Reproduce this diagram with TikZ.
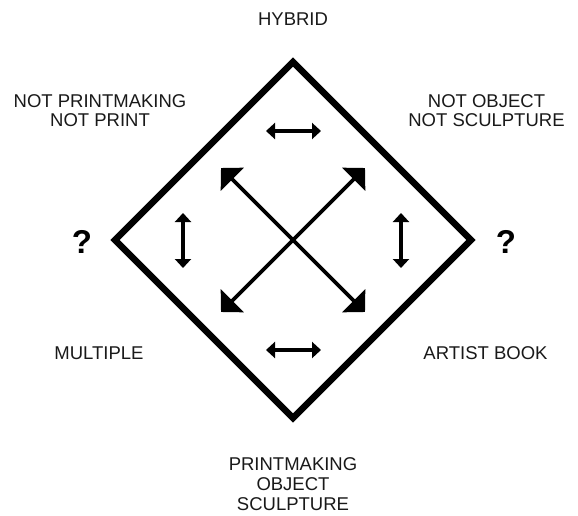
\documentclass[tikz,border=0pt]{standalone}
\usepackage{fontspec}
\setmainfont{Liberation Sans}
\usetikzlibrary{arrows.meta}
\begin{document}
\begin{tikzpicture}[x=1pt,y=-1pt,
  lbl/.style={font=\fontsize{18.5}{20}\selectfont, align=center, anchor=base, inner sep=0pt, text=black!90},
  qm/.style={font=\fontsize{33}{36}\selectfont\bfseries, anchor=base, inner sep=0pt},
  frame/.style={line width=6.5pt, miter limit=10, line join=miter},
  bigarrow/.style={line width=3.8pt, {Triangle[length=16pt,width=32pt]}-{Triangle[length=16pt,width=32pt]}},
  smallarrow/.style={line width=4pt, {Triangle[length=9pt,width=16pt]}-{Triangle[length=9pt,width=16pt]}}
]
\useasboundingbox (0,0) rectangle (578,516);
% diamond
\coordinate (T) at (293,62);
\coordinate (R) at (471,240);
\coordinate (B) at (293,418);
\coordinate (L) at (115,240);
\draw[frame] (T) -- (R) -- (B) -- (L) -- cycle;
% big diagonal arrows
\coordinate (a1) at (221,168);
\coordinate (a2) at (365,312);
\coordinate (b1) at (365,168);
\coordinate (b2) at (221,312);
\draw[bigarrow] (a1) -- (a2);
\draw[bigarrow] (b1) -- (b2);
% small arrows
\coordinate (h1a) at (266,131);
\coordinate (h1b) at (321,131);
\coordinate (h2a) at (266,350);
\coordinate (h2b) at (321,350);
\coordinate (v1a) at (183,213);
\coordinate (v1b) at (183,268);
\coordinate (v2a) at (401,213);
\coordinate (v2b) at (401,268);
\draw[smallarrow] (h1a) -- (h1b);
\draw[smallarrow] (h2a) -- (h2b);
\draw[smallarrow] (v1a) -- (v1b);
\draw[smallarrow] (v2a) -- (v2b);
% labels
\node[lbl] (hyb) at (293,26) {HYBRID};
\node[lbl] (np1) at (100,108) {NOT PRINTMAKING};
\node[lbl] (np2) at (100,127) {NOT PRINT};
\node[lbl] (no1) at (486.5,108) {NOT OBJECT};
\node[lbl] (no2) at (486.5,127) {NOT SCULPTURE};
\node[qm] (q1) at (82,253) {?};
\node[qm] (q2) at (506,253) {?};
\node[lbl] (mul) at (99,359) {MULTIPLE};
\node[lbl] (ab) at (485.5,359) {ARTIST BOOK};
\node[lbl] (pm) at (293,470) {PRINTMAKING};
\node[lbl] (ob) at (293,490) {OBJECT};
\node[lbl] (sc) at (293,510) {SCULPTURE};
\end{tikzpicture}
\end{document}
